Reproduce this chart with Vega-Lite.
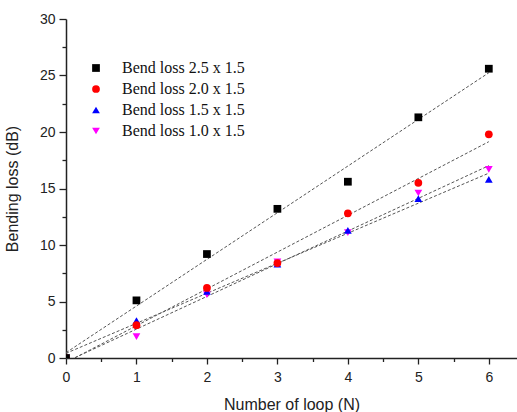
{
  "$schema": "https://vega.github.io/schema/vega-lite/v6.json",
  "autosize": {"type": "none"},
  "padding": {"left": 66, "top": 19, "right": 0, "bottom": 54},
  "width": 451,
  "height": 339,
  "background": "white",
  "config": {
    "view": {"stroke": null},
    "axis": {
      "labelFont": "Liberation Sans",
      "titleFont": "Liberation Sans",
      "labelFontSize": 14,
      "titleFontSize": 16,
      "titleFontWeight": "normal",
      "labelColor": "#222",
      "titleColor": "#222",
      "domainColor": "#222",
      "domainWidth": 1.5,
      "tickColor": "#222",
      "tickWidth": 1.3,
      "labelFlush": false,
      "grid": false
    }
  },
  "data": {
    "values": [
      {"n": 0, "loss": 0, "series": "Bend loss 2.5 x 1.5"},
      {"n": 1, "loss": 5.1, "series": "Bend loss 2.5 x 1.5"},
      {"n": 2, "loss": 9.2, "series": "Bend loss 2.5 x 1.5"},
      {"n": 3, "loss": 13.2, "series": "Bend loss 2.5 x 1.5"},
      {"n": 4, "loss": 15.6, "series": "Bend loss 2.5 x 1.5"},
      {"n": 5, "loss": 21.3, "series": "Bend loss 2.5 x 1.5"},
      {"n": 6, "loss": 25.6, "series": "Bend loss 2.5 x 1.5"},
      {"n": 0, "loss": 0, "series": "Bend loss 2.0 x 1.5"},
      {"n": 1, "loss": 2.9, "series": "Bend loss 2.0 x 1.5"},
      {"n": 2, "loss": 6.2, "series": "Bend loss 2.0 x 1.5"},
      {"n": 3, "loss": 8.4, "series": "Bend loss 2.0 x 1.5"},
      {"n": 4, "loss": 12.8, "series": "Bend loss 2.0 x 1.5"},
      {"n": 5, "loss": 15.5, "series": "Bend loss 2.0 x 1.5"},
      {"n": 6, "loss": 19.8, "series": "Bend loss 2.0 x 1.5"},
      {"n": 0, "loss": 0, "series": "Bend loss 1.5 x 1.5"},
      {"n": 1, "loss": 3.3, "series": "Bend loss 1.5 x 1.5"},
      {"n": 2, "loss": 5.9, "series": "Bend loss 1.5 x 1.5"},
      {"n": 3, "loss": 8.3, "series": "Bend loss 1.5 x 1.5"},
      {"n": 4, "loss": 11.3, "series": "Bend loss 1.5 x 1.5"},
      {"n": 5, "loss": 14.1, "series": "Bend loss 1.5 x 1.5"},
      {"n": 6, "loss": 15.8, "series": "Bend loss 1.5 x 1.5"},
      {"n": 0, "loss": 0, "series": "Bend loss 1.0 x 1.5"},
      {"n": 1, "loss": 1.9, "series": "Bend loss 1.0 x 1.5"},
      {"n": 2, "loss": 5.6, "series": "Bend loss 1.0 x 1.5"},
      {"n": 3, "loss": 8.5, "series": "Bend loss 1.0 x 1.5"},
      {"n": 4, "loss": 11.1, "series": "Bend loss 1.0 x 1.5"},
      {"n": 5, "loss": 14.6, "series": "Bend loss 1.0 x 1.5"},
      {"n": 6, "loss": 16.7, "series": "Bend loss 1.0 x 1.5"}
    ]
  },
  "layer": [
    {
      "transform": [
        {"regression": "loss", "on": "n", "groupby": ["series"], "extent": [0, 6]}
      ],
      "mark": {"type": "line", "color": "#555", "strokeWidth": 1, "strokeDash": [3, 2], "clip": true},
      "encoding": {
        "x": {"field": "n", "type": "quantitative", "scale": {"domain": [0, 6.4], "nice": false},
          "axis": {"title": "Number of loop (N)", "values": [0, 1, 2, 3, 4, 5, 6], "tickSize": 6, "labelPadding": 6, "titlePadding": 12, "orient": "bottom"}},
        "y": {"field": "loss", "type": "quantitative", "scale": {"domain": [0, 30], "nice": false},
          "axis": {"title": "Bending loss (dB)", "values": [0, 5, 10, 15, 20, 25, 30], "tickSize": 7, "labelPadding": 4, "titlePadding": 19, "orient": "left"}},
        "detail": {"field": "series"}
      }
    },
    {
      "mark": {"type": "point", "filled": true, "opacity": 1, "clip": true},
      "encoding": {
        "x": {"field": "n", "type": "quantitative", "axis": null},
        "y": {"field": "loss", "type": "quantitative", "axis": null},
        "color": {
          "field": "series", "type": "nominal",
          "scale": {"domain": ["Bend loss 2.5 x 1.5", "Bend loss 2.0 x 1.5", "Bend loss 1.5 x 1.5", "Bend loss 1.0 x 1.5"], "range": ["#000000", "#ff0000", "#0000ff", "#ff00ff"]},
          "legend": {"title": null, "orient": "none", "legendX": 22, "legendY": 41, "labelFont": "Liberation Serif", "labelFontSize": 16, "labelColor": "#111", "symbolSize": 60, "rowPadding": 5, "labelOffset": 18, "symbolOffset": 0}
        },
        "shape": {
          "field": "series", "type": "nominal",
          "scale": {"domain": ["Bend loss 2.5 x 1.5", "Bend loss 2.0 x 1.5", "Bend loss 1.5 x 1.5", "Bend loss 1.0 x 1.5"], "range": ["square", "circle", "triangle-up", "triangle-down"]}
        },
        "size": {"value": 60},
        "order": {"field": "series", "sort": "ascending"}
      }
    },
    {
      "mark": {"type": "point", "opacity": 0},
      "encoding": {
        "x": {"field": "n", "type": "quantitative",
          "axis": {"title": null, "values": [0.5, 1.5, 2.5, 3.5, 4.5, 5.5], "labels": false, "domain": false, "tickSize": 3.5, "orient": "bottom"}},
        "y": {"field": "loss", "type": "quantitative",
          "axis": {"title": null, "values": [2.5, 7.5, 12.5, 17.5, 22.5, 27.5], "labels": false, "domain": false, "tickSize": 4, "orient": "left"}}
      }
    }
  ],
  "resolve": {"axis": {"x": "independent", "y": "independent"}}
}
